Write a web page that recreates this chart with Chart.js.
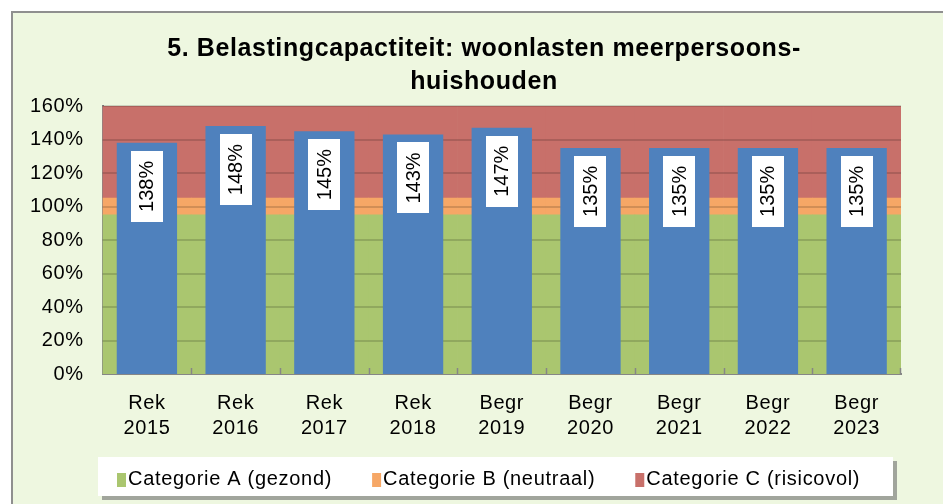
<!DOCTYPE html>
<html>
<head>
<meta charset="utf-8">
<script src="https://cdn.jsdelivr.net/npm/chart.js@4"></script>
<style>
  html, body { margin: 0; padding: 0; background: #fff; }
  #wrap { width: 943px; height: 504px; }
</style>
</head>
<body>
<div id="wrap"><canvas id="chart" width="943" height="504"></canvas></div>
<script>
var periods = ['Rek', 'Rek', 'Rek', 'Rek', 'Begr', 'Begr', 'Begr', 'Begr', 'Begr'];
var years = ['2015', '2016', '2017', '2018', '2019', '2020', '2021', '2022', '2023'];
var capacity = [138, 148, 145, 143, 147, 135, 135, 135, 135];
var bandA = [95, 95, 95, 95, 95, 95, 95, 95, 95];
var bandB = [10, 10, 10, 10, 10, 10, 10, 10, 10];
var bandC = [55, 55, 55, 55, 55, 55, 55, 55, 55];
var yTicks = [0, 20, 40, 60, 80, 100, 120, 140, 160];

var FONT = "'Liberation Sans', Arial, sans-serif";
Chart.defaults.font.family = FONT;
Chart.defaults.color = '#000';

var labels = periods.map(function (p, i) { return [p, years[i]]; });

// the original renders its text a bit wider than Arial
var spacing = {
    id: 'spacing',
    beforeLayout: function (chart) { chart.ctx.letterSpacing = '0.6px'; },
    afterLayout: function (chart) {
        // the original title sits a little right of the canvas centre
        if (chart.titleBlock) {
            chart.titleBlock.left += 28;
            chart.titleBlock.right += 28;
        }
    },
    beforeDraw: function (chart) { chart.ctx.letterSpacing = '0.6px'; },
    beforeDatasetsDraw: function (chart) { chart.ctx.letterSpacing = '0px'; }
};

// frame + light green background
var frame = {
    id: 'frame',
    beforeDraw: function (chart) {
        var c = chart.ctx;
        c.save();
        c.fillStyle = '#fff';
        c.fillRect(0, 0, chart.width, chart.height);
        c.fillStyle = '#EEF7E0';
        c.fillRect(12, 12, chart.width, chart.height);
        c.strokeStyle = '#8F8F8F';
        c.lineWidth = 2;
        c.beginPath();
        c.moveTo(12, chart.height);
        c.lineTo(12, 12);
        c.lineTo(chart.width, 12);
        c.stroke();
        c.restore();
    }
};

// grid lines and small x ticks over the bands, under the blue bars
var bandGrid = {
    id: 'bandGrid',
    afterDatasetDraw: function (chart, args) {
        if (args.index !== 0) return;
        var c = chart.ctx, x = chart.scales.x, y = chart.scales.y, a = chart.chartArea;
        c.save();
        c.strokeStyle = 'rgba(0,0,0,0.15)';
        c.lineWidth = 2;
        yTicks.forEach(function (v) {
            if (v === 0) return;
            var py = Math.round(y.getPixelForValue(v));
            c.beginPath();
            c.moveTo(a.left, py);
            c.lineTo(a.right, py);
            c.stroke();
        });
        c.strokeStyle = '#868686';
        c.lineWidth = 1.5;
        for (var i = 0; i < labels.length; i++) {
            var px = i < labels.length - 1
                ? (x.getPixelForTick(i) + x.getPixelForTick(i + 1)) / 2
                : a.right - 1;
            px = Math.round(px) + 0.5;
            c.beginPath();
            c.moveTo(px, a.bottom);
            c.lineTo(px, a.bottom - 6);
            c.stroke();
        }
        c.restore();
    }
};

// rotated value labels in white boxes
var valueLabels = {
    id: 'valueLabels',
    afterDatasetsDraw: function (chart) {
        var meta = chart.getDatasetMeta(3);
        var c = chart.ctx;
        c.save();
        c.letterSpacing = '0px';
        c.font = '20px ' + FONT;
        meta.data.forEach(function (bar, i) {
            var txt = capacity[i] + '%';
            var w = 32, h = 71;
            var top = bar.y + 8;
            c.fillStyle = '#fff';
            c.fillRect(Math.round(bar.x - w / 2), Math.round(top), w, h);
            c.save();
            c.translate(bar.x, top + h / 2);
            c.rotate(-Math.PI / 2);
            c.fillStyle = '#000';
            c.textAlign = 'center';
            c.textBaseline = 'middle';
            c.fillText(txt, 0, 1);
            c.restore();
        });
        c.restore();
    }
};

// legend panel for the three bands
var bandLegend = {
    id: 'bandLegend',
    afterDraw: function (chart) {
        var c = chart.ctx;
        var l = 98, r = 893, t = 457, h = 39;
        c.save();
        c.fillStyle = 'rgba(110,110,110,0.6)';
        c.fillRect(l + 4, t + 4, r - l, h);
        c.fillStyle = '#fff';
        c.fillRect(l, t, r - l, h);
        c.font = '20px ' + FONT;
        c.letterSpacing = '0.7px';
        c.textBaseline = 'middle';
        c.textAlign = 'left';
        var cx = 117, cy = 479;
        chart.data.datasets.slice(0, 3).forEach(function (ds) {
            c.fillStyle = ds.backgroundColor;
            c.fillRect(cx, cy - 6, 9, 14);
            cx += 11;
            c.fillStyle = '#000';
            c.fillText(ds.label, cx, cy);
            cx += c.measureText(ds.label).width + 40;
        });
        c.restore();
    }
};

new Chart(document.getElementById('chart'), {
    type: 'bar',
    data: {
        labels: labels,
        datasets: [
            { label: 'Categorie A (gezond)', data: bandA, backgroundColor: '#AAC66F', stack: 'band', order: 1,
              barPercentage: 1, categoryPercentage: 1, borderWidth: 0 },
            { label: 'Categorie B (neutraal)', data: bandB, backgroundColor: '#F6A766', stack: 'band', order: 1,
              barPercentage: 1, categoryPercentage: 1, borderWidth: 0 },
            { label: 'Categorie C (risicovol)', data: bandC, backgroundColor: '#C8706A', stack: 'band', order: 1,
              barPercentage: 1, categoryPercentage: 1, borderWidth: 0 },
            { label: 'Belastingcapaciteit', data: capacity, backgroundColor: '#4F81BD', stack: 'value', order: 0,
              grouped: false, barPercentage: 0.68, categoryPercentage: 1, borderWidth: 0 }
        ]
    },
    options: {
        responsive: false,
        animation: false,
        devicePixelRatio: 1,
        layout: { padding: { left: 11, right: 42, top: 12, bottom: 47 } },
        plugins: {
            title: {
                display: true,
                text: ['5. Belastingcapactiteit: woonlasten meerpersoons-', 'huishouden'],
                font: { size: 25, weight: 'bold', lineHeight: 1.32 },
                color: '#000',
                padding: { top: 21, bottom: 7 }
            },
            legend: { display: false },
            tooltip: { enabled: false }
        },
        scales: {
            x: {
                stacked: true,
                grid: { display: false, drawTicks: false },
                border: { color: '#868686', width: 2 },
                ticks: { font: { size: 20, lineHeight: 1.25 }, padding: 17, maxRotation: 0, color: '#000' },
                afterFit: function (scale) { scale.height -= 1; }
            },
            y: {
                stacked: true,
                min: 0,
                max: 160,
                grid: { display: false, drawTicks: false },
                border: { color: '#868686', width: 2 },
                ticks: {
                    stepSize: 20,
                    font: { size: 20 },
                    padding: 19,
                    color: '#000',
                    callback: function (v) { return v + '%'; }
                }
            }
        }
    },
    plugins: [spacing, frame, bandGrid, valueLabels, bandLegend]
});
</script>
</body>
</html>
